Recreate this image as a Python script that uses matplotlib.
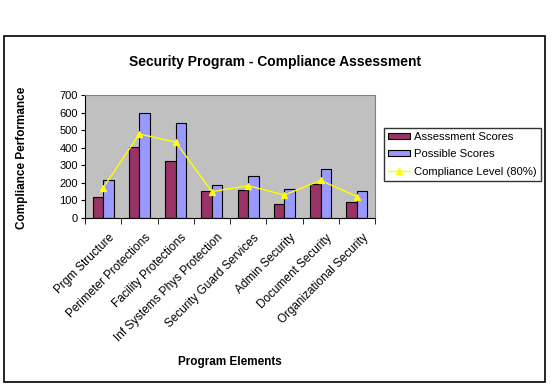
import numpy as np
import matplotlib
matplotlib.use("Agg")
import matplotlib.pyplot as plt
import matplotlib.transforms as mtransforms
from matplotlib.patches import Rectangle

plt.rcParams['font.family'] = ['Liberation Sans', 'DejaVu Sans']

categories = ["Prgm Structure", "Perimeter Protections", "Facility Protections",
              "Inf Systems Phys Protection", "Security Guard Services",
              "Admin Security", "Document Security", "Organizational Security"]
assessment = [120, 402, 323, 153, 158, 81, 194, 90]
possible = [215, 600, 538, 188, 238, 165, 278, 153]
compliance = [172, 478, 432, 150, 184, 131, 214, 122]

W, H = 552, 387
fig = plt.figure(figsize=(W / 100, H / 100), dpi=100)
fig.patch.set_facecolor("white")

# outer chart border
fig.add_artist(Rectangle((4 / W, 1 - 382 / H), 541 / W, 346 / H, transform=fig.transFigure,
                         fill=False, edgecolor="black", linewidth=1.2))

ax = fig.add_axes([85 / W, 1 - 218 / H, 290 / W, 123 / H])
ax.set_facecolor("#C0C0C0")

x = np.arange(len(categories))
bw = 0.29
b1 = ax.bar(x - bw / 2, assessment, width=bw, color="#993366", edgecolor="black", linewidth=0.8,
            label="Assessment Scores", zorder=2)
b2 = ax.bar(x + bw / 2, possible, width=bw, color="#9999FF", edgecolor="black", linewidth=0.8,
            label="Possible Scores", zorder=2)
l1, = ax.plot(x, compliance, color="#FFFF00", marker="^", markersize=5, linewidth=1,
              label="Compliance Level (80%)", zorder=3)

ax.set_xlim(-0.5, len(categories) - 0.5)
ax.set_ylim(0, 700)
ax.set_yticks(range(0, 701, 100))
ax.tick_params(axis="y", labelsize=8, length=3, direction="out", pad=2)

ax.set_xticks(x)
ax.set_xticklabels(categories, rotation=45, ha="right", va="top", rotation_mode="anchor",
                   fontsize=8.5)
ax.tick_params(axis="x", which="major", length=0, pad=10)
ax.set_xticks(np.arange(-0.5, len(categories), 1), minor=True)
ax.tick_params(axis="x", which="minor", length=4, direction="out")
# excel puts the rotated labels a bit right of the category centre
shift = mtransforms.ScaledTranslation(5 / 100, 0, fig.dpi_scale_trans)
for lab in ax.get_xticklabels():
    lab.set_transform(lab.get_transform() + shift)

for s in ["top", "right"]:
    ax.spines[s].set_color("#808080")
ax.spines["left"].set_color("black")
ax.spines["bottom"].set_color("black")

fig.text(275 / W, 1 - 62 / H, "Security Program - Compliance Assessment",
         ha="center", va="center", fontsize=10, fontweight="bold")
fig.text(22 / W, 1 - 158 / H, "Compliance Performance", rotation=90,
         ha="center", va="center", fontsize=8.5, fontweight="bold")
fig.text(230 / W, 1 - 362 / H, "Program Elements",
         ha="center", va="center", fontsize=8.5, fontweight="bold")

leg = fig.legend([b1, b2, l1], ["Assessment Scores", "Possible Scores", "Compliance Level (80%)"],
                 loc="upper left", bbox_to_anchor=(384 / W, 1 - 128 / H), fontsize=8.1,
                 frameon=True, fancybox=False, borderpad=0.35, labelspacing=0.65,
                 handlelength=2.0, handleheight=0.5, handletextpad=0.35, borderaxespad=0)
leg.get_frame().set_edgecolor("black")
leg.get_frame().set_linewidth(1)

fig.savefig("out.png", dpi=100)
